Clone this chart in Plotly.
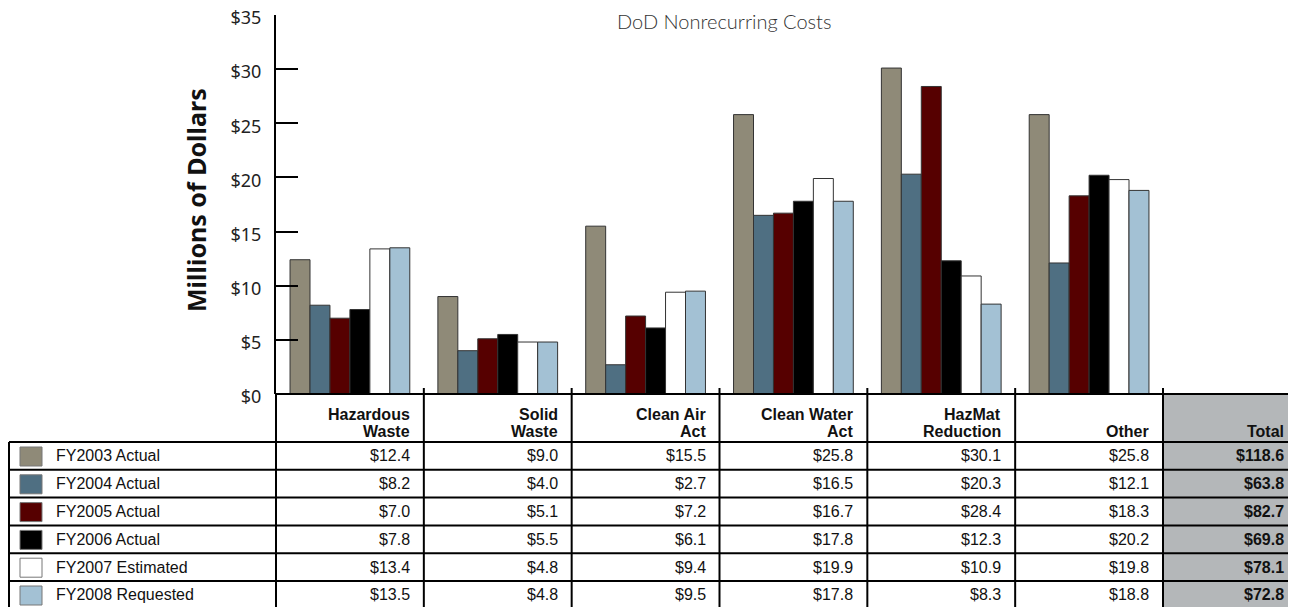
import plotly.graph_objects as go

# categories and table headers
categories = ["Hazardous Waste", "Solid Waste", "Clean Air Act", "Clean Water Act", "HazMat Reduction", "Other"]
header_lines = [("Hazardous", "Waste"), ("Solid", "Waste"), ("Clean Air", "Act"),
                ("Clean Water", "Act"), ("HazMat", "Reduction"), ("", "Other")]

series_names = ["FY2003 Actual", "FY2004 Actual", "FY2005 Actual",
                "FY2006 Actual", "FY2007 Estimated", "FY2008 Requested"]
fy2003 = [12.4, 9.0, 15.5, 25.8, 30.1, 25.8]
fy2004 = [8.2, 4.0, 2.7, 16.5, 20.3, 12.1]
fy2005 = [7.0, 5.1, 7.2, 16.7, 28.4, 18.3]
fy2006 = [7.8, 5.5, 6.1, 17.8, 12.3, 20.2]
fy2007 = [13.4, 4.8, 9.4, 19.9, 10.9, 19.8]
fy2008 = [13.5, 4.8, 9.5, 17.8, 8.3, 18.8]
totals = [118.6, 63.8, 82.7, 69.8, 78.1, 72.8]

y_ticks = [0, 5, 10, 15, 20, 25, 30, 35]

series_values = [fy2003, fy2004, fy2005, fy2006, fy2007, fy2008]
colors = ["#8f8a78", "#4f6f82", "#560000", "#000000", "#ffffff", "#a3c1d4"]

# page geometry, in screen pixels; the page body adds an 8px offset
OFF = 8
W, H = 1296 - OFF, 607 - OFF
L, R, T, B = 276, 1163, 15, 394
col_w = (R - L) / len(categories)
row_top = 442
row_h = 27.8


def px_x(p):
    return (p - L) / (R - L)


def px_y(p):
    return (B - p) / (B - T)


TXT = "Liberation Sans, Arial, sans-serif"

fig = go.Figure()
for name, vals, c in zip(series_names, series_values, colors):
    fig.add_trace(go.Bar(
        x=list(range(len(categories))), y=vals, name=name,
        marker=dict(color=c, line=dict(color="#333333", width=1)),
        showlegend=False,
    ))

fig.update_layout(
    width=W, height=H,
    margin=dict(l=L - OFF, r=W - (R - OFF), t=T - OFF, b=H - (B - OFF), autoexpand=False),
    plot_bgcolor="white", paper_bgcolor="white",
    barmode="group", bargap=0.19, bargroupgap=0,
    xaxis=dict(range=[-0.5, len(categories) - 0.5], showticklabels=False, automargin=False,
               showgrid=False, zeroline=False, ticks=""),
    yaxis=dict(range=[0, 35], tickvals=y_ticks, ticktext=[f"${v}" for v in y_ticks],
               showgrid=False, zeroline=False, showline=True, linecolor="black", linewidth=2,
               ticks="inside", ticklen=22, tickwidth=2, tickcolor="black",
               ticklabelstandoff=9, automargin=False, ticklabeloverflow="allow",
               ticklabelshift=3,
               tickfont=dict(family="Noto Sans, Open Sans, sans-serif", size=18, color="#222")),
)

shapes = []
line = dict(color="black", width=2)
right_edge = 1310
bottom_edge = 615
# baseline / header top
shapes.append(dict(type="line", xref="paper", yref="paper", x0=px_x(L), x1=px_x(right_edge),
                   y0=px_y(B), y1=px_y(B), line=line))
# total column background
shapes.append(dict(type="rect", xref="paper", yref="paper", x0=px_x(R), x1=px_x(right_edge),
                   y0=px_y(B), y1=px_y(bottom_edge), fillcolor="#b4b7b9", line=dict(width=0),
                   layer="below"))
# horizontal row lines
for k in range(len(series_names)):
    yy = row_top + k * row_h
    shapes.append(dict(type="line", xref="paper", yref="paper", x0=px_x(9), x1=px_x(right_edge),
                       y0=px_y(yy), y1=px_y(yy), line=line))
# left border
shapes.append(dict(type="line", xref="paper", yref="paper", x0=px_x(9), x1=px_x(9),
                   y0=px_y(row_top), y1=px_y(bottom_edge), line=line))
# axis extension down through table
shapes.append(dict(type="line", xref="paper", yref="paper", x0=0, x1=0,
                   y0=px_y(B), y1=px_y(bottom_edge), line=line))
# column separators
for i in range(1, len(categories) + 1):
    xx = L + i * col_w
    shapes.append(dict(type="line", xref="paper", yref="paper", x0=px_x(xx), x1=px_x(xx),
                       y0=px_y(B - 6), y1=px_y(bottom_edge), line=line))

# legend swatches
for k, c in enumerate(colors):
    yy = row_top + k * row_h
    shapes.append(dict(type="rect", xref="paper", yref="paper",
                       x0=px_x(20), x1=px_x(42), y0=px_y(yy + 5), y1=px_y(yy + 24),
                       fillcolor=c, line=dict(color="#777777", width=1)))

ann = []
# title
ann.append(dict(text="DoD Nonrecurring Costs", xref="paper", yref="paper",
                x=px_x(724), y=px_y(21), xanchor="center", yanchor="middle", showarrow=False,
                font=dict(family="Lato, sans-serif", size=20, color="#333", weight=300)))
# y title
ann.append(dict(text="<b>Millions of Dollars</b>", xref="paper", yref="paper",
                x=px_x(196), y=px_y(200), xanchor="center", yanchor="middle", textangle=-90,
                showarrow=False, font=dict(family="Noto Sans, Open Sans, sans-serif", size=25, color="#111")))

# headers
total_right = 1286
for i, (l1, l2) in enumerate(header_lines):
    xr = px_x(L + (i + 1) * col_w - 12)
    for txt, yy in ((l1, 414), (l2, 431)):
        if txt:
            ann.append(dict(text=f"<b>{txt}</b>", xref="paper", yref="paper", x=xr, y=px_y(yy),
                            xanchor="right", yanchor="middle", showarrow=False,
                            font=dict(family=TXT, size=16, color="#111")))
ann.append(dict(text="<b>Total</b>", xref="paper", yref="paper", x=px_x(total_right), y=px_y(431),
                xanchor="right", yanchor="middle", showarrow=False,
                font=dict(family=TXT, size=16, color="#111")))

# table body
for k, (name, vals) in enumerate(zip(series_names, series_values)):
    yc = row_top + k * row_h + row_h / 2
    ann.append(dict(text=name, xref="paper", yref="paper", x=px_x(54), y=px_y(yc),
                    xanchor="left", yanchor="middle", showarrow=False,
                    font=dict(family=TXT, size=16, color="#111")))
    for i, v in enumerate(vals):
        ann.append(dict(text=f"${v:.1f}", xref="paper", yref="paper",
                        x=px_x(L + (i + 1) * col_w - 12), y=px_y(yc),
                        xanchor="right", yanchor="middle", showarrow=False,
                        font=dict(family=TXT, size=16, color="#111")))
    ann.append(dict(text=f"<b>${totals[k]:.1f}</b>", xref="paper", yref="paper",
                    x=px_x(total_right), y=px_y(yc), xanchor="right", yanchor="middle",
                    showarrow=False, font=dict(family=TXT, size=16, color="#111")))

fig.update_layout(shapes=shapes, annotations=ann)
fig.write_html("out.html")
